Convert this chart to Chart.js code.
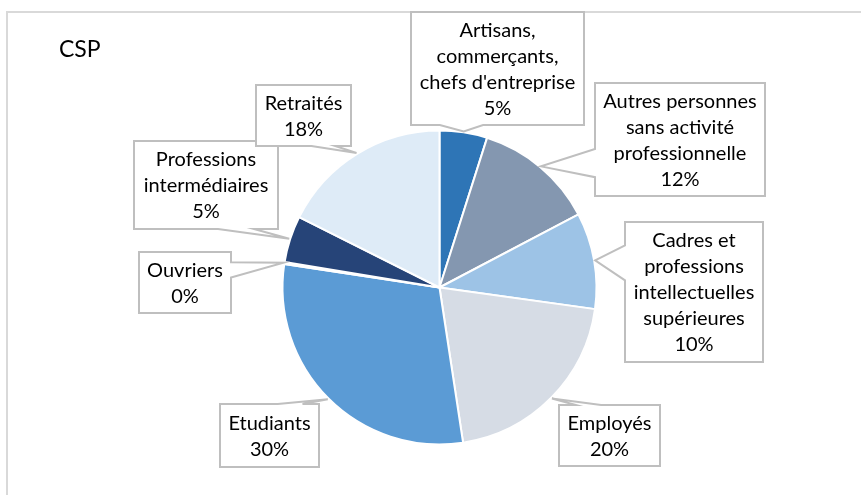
<!DOCTYPE html>
<html><head><meta charset="utf-8">
<script src="https://cdn.jsdelivr.net/npm/chart.js@4/dist/chart.umd.min.js"></script>
<style>html,body{margin:0;padding:0;background:#fff;}#wrap{position:relative;width:861px;height:495px;}</style>
</head><body><div id="wrap"><canvas id="c"></canvas></div>
<script>
const chartTitle = 'CSP';
const categories = [
  ['Artisans,', 'commerçants,', "chefs d'entreprise"],
  ['Autres personnes', 'sans activité', 'professionnelle'],
  ['Cadres et', 'professions', 'intellectuelles', 'supérieures'],
  ['Employés'],
  ['Etudiants'],
  ['Ouvriers'],
  ['Professions', 'intermédiaires'],
  ['Retraités']
];
const shares = [4.9, 12.4, 9.9, 20.4, 29.8, 0.2, 4.8, 17.6];
const sliceColors = ['#2E75B6', '#8497B0', '#9DC3E6', '#D6DCE5', '#5B9BD5', '#1F4E79', '#264478', '#DEEBF7'];
// label box layout: [left, top, width, height]
const calloutBoxes = [
  [411, 12, 173, 113],
  [595, 83, 170, 113],
  [625, 222, 138, 140],
  [559, 405, 101, 61],
  [220, 404, 99, 63],
  [139, 252, 92, 61],
  [134, 141, 144, 88],
  [256, 85, 95, 61]
];
// which box edge carries the pointer ('v' = top/bottom, 'h' = left/right, null = automatic)
const calloutEdges = [null, null, null, 'v', 'v', null, null, null];

const FONT = 'Lato, "Open Sans", sans-serif';

function calloutPath(ctx, l, t, w, h, tipX, tipY, edge) {
  const r = l + w, b = t + h, hc = l + w / 2, vc = t + h / 2;
  const dxPos = tipX - hc, dyPos = tipY - vc;
  const dq = dxPos * h / w;
  let dz = Math.abs(dyPos) - Math.abs(dq);
  if (edge === 'v') dz = 1;
  if (edge === 'h') dz = -1;
  const x1 = l + w * (dxPos > 0 ? 7 : 2) / 12;
  const x2 = l + w * (dxPos > 0 ? 10 : 5) / 12;
  const y1 = t + h * (dyPos > 0 ? 7 : 2) / 12;
  const y2 = t + h * (dyPos > 0 ? 10 : 5) / 12;
  const xl = dz > 0 ? l : (dxPos > 0 ? l : tipX);
  const xt = dz > 0 ? (dyPos > 0 ? x1 : tipX) : x1;
  const xr = dz > 0 ? r : (dxPos > 0 ? tipX : r);
  const xb = dz > 0 ? (dyPos > 0 ? tipX : x1) : x1;
  const yl = dz > 0 ? y1 : (dxPos > 0 ? y1 : tipY);
  const yt = dz > 0 ? (dyPos > 0 ? t : tipY) : t;
  const yr = dz > 0 ? y1 : (dxPos > 0 ? tipY : y1);
  const yb = dz > 0 ? (dyPos > 0 ? tipY : b) : b;
  ctx.beginPath();
  ctx.moveTo(l, t); ctx.lineTo(x1, t); ctx.lineTo(xt, yt); ctx.lineTo(x2, t); ctx.lineTo(r, t);
  ctx.lineTo(r, y1); ctx.lineTo(xr, yr); ctx.lineTo(r, y2); ctx.lineTo(r, b);
  ctx.lineTo(x2, b); ctx.lineTo(xb, yb); ctx.lineTo(x1, b); ctx.lineTo(l, b);
  ctx.lineTo(l, y2); ctx.lineTo(xl, yl); ctx.lineTo(l, y1);
  ctx.closePath();
}

const framePlugin = {
  id: 'frame',
  beforeDraw(chart) {
    const ctx = chart.ctx;
    ctx.save();
    ctx.fillStyle = '#fff';
    ctx.fillRect(0, 0, chart.width, chart.height);
    ctx.strokeStyle = '#D9D9D9';
    ctx.lineWidth = 2;
    ctx.beginPath();
    ctx.moveTo(7, chart.height); ctx.lineTo(7, 12); ctx.lineTo(chart.width, 12);
    ctx.stroke();
    ctx.fillStyle = '#000';
    ctx.font = '23px ' + FONT;
    ctx.textBaseline = 'alphabetic';
    ctx.textAlign = 'left';
    ctx.fillText(chartTitle, 59, 57);
    ctx.restore();
  }
};

const calloutPlugin = {
  id: 'callouts',
  afterDatasetsDraw(chart) {
    const ctx = chart.ctx;
    const meta = chart.getDatasetMeta(0);
    const data = chart.data.datasets[0].data;
    const total = data.reduce((a, b) => a + b, 0);
    ctx.save();
    meta.data.forEach((arc, i) => {
      const p = arc.getProps(['x', 'y', 'startAngle', 'endAngle', 'outerRadius'], true);
      const mid = (p.startAngle + p.endAngle) / 2;
      const tipX = p.x + Math.cos(mid) * (p.outerRadius + 1);
      const tipY = p.y + Math.sin(mid) * (p.outerRadius + 1);
      const [l, t, w, h] = calloutBoxes[i];
      calloutPath(ctx, l, t, w, h, tipX, tipY, calloutEdges[i]);
      ctx.fillStyle = '#fff';
      ctx.fill();
      ctx.strokeStyle = '#BFBFBF';
      ctx.lineWidth = 2;
      ctx.lineJoin = 'miter';
      ctx.stroke();
      const lines = chart.data.labels[i].concat([Math.round(data[i] / total * 100) + '%']);
      const lh = 26;
      ctx.fillStyle = '#000';
      ctx.font = '20px ' + FONT;
      ctx.textAlign = 'center';
      ctx.textBaseline = 'middle';
      const cy = t + h / 2 + 1 - (lines.length - 1) * lh / 2;
      lines.forEach((s, k) => ctx.fillText(s, l + w / 2, cy + k * lh));
    });
    ctx.restore();
  }
};

new Chart(document.getElementById('c'), {
  type: 'pie',
  data: {
    labels: categories,
    datasets: [{
      data: shares,
      backgroundColor: sliceColors,
      borderColor: '#fff',
      borderWidth: 2,
      hoverOffset: 0,
      offset: 0
    }]
  },
  options: {
    responsive: true,
    maintainAspectRatio: false,
    animation: false,
    radius: 157,
    layout: { padding: { left: 282, right: 264, top: 130, bottom: 50 } },
    plugins: { legend: { display: false }, tooltip: { enabled: false }, title: { display: false } },
    events: []
  },
  plugins: [framePlugin, calloutPlugin]
});
</script>
</body></html>
